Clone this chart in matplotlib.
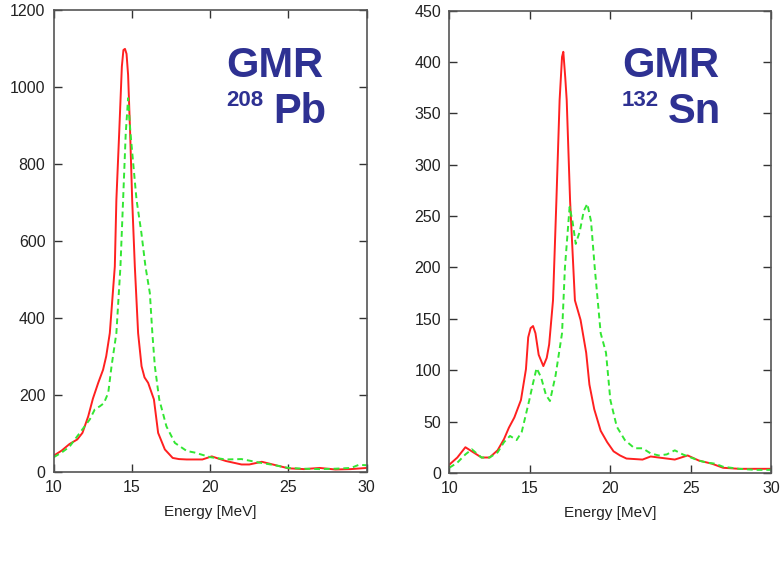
import matplotlib
matplotlib.use("Agg")
import matplotlib.pyplot as plt

plt.rcParams['font.family'] = ['Liberation Sans', 'DejaVu Sans']

# 208Pb GMR strength
pb_red_e = [10, 10.5, 11, 11.5, 11.83, 12.2, 12.5, 12.84, 13.15, 13.35, 13.58, 13.9, 14.0, 14.18,
            14.35, 14.45, 14.55, 14.65, 14.75, 14.88, 15.01, 15.18, 15.39, 15.61, 15.8, 16.03,
            16.4, 16.67, 17.1, 17.6, 18.0, 18.5, 19.5, 20.1, 21, 22, 22.5, 23.3, 24, 25, 26,
            27, 28, 29, 30]
pb_red_v = [42, 55, 72, 84, 101, 144, 190, 231, 265, 300, 360, 533, 706, 880,
            1052, 1095, 1098, 1085, 1030, 880, 706, 533, 360, 274, 245, 231,
            188, 101, 58, 36, 33, 32, 32, 40, 28, 19, 19, 26, 19, 9, 7,
            10, 6, 7, 10]
pb_green_e = [10, 10.5, 11, 11.66, 12.3, 12.62, 12.94, 13.2, 13.48, 13.69, 14.0, 14.26, 14.43,
              14.6, 14.75, 14.9, 15.1, 15.29, 15.6, 15.86, 16.14, 16.3, 16.46, 16.74, 17.2,
              17.74, 18.5, 19, 20, 21, 22, 23, 24, 25, 26, 27, 28, 29, 29.5, 30]
pb_green_v = [38, 50, 65, 101, 136, 162, 170, 178, 205, 274, 360, 533, 706,
              880, 970, 880, 790, 706, 620, 533, 464, 360, 274, 188, 118,
              75, 54, 50, 38, 32, 33, 25, 18, 10, 8, 7, 8, 10, 18, 17]

# 132Sn GMR strength
sn_red_e = [10, 10.5, 11, 11.5, 12, 12.5, 13, 13.4, 13.7, 14.04, 14.45, 14.76, 14.9, 15.05, 15.2,
            15.35, 15.55, 15.84, 16.05, 16.2, 16.44, 16.65, 16.85, 17.0, 17.08, 17.2, 17.29,
            17.5, 17.8, 18.15, 18.5, 18.7, 19.0, 19.4, 19.8, 20.2, 20.6, 21, 22, 22.5, 23, 24,
            24.8, 25.5, 26.3, 27, 28, 30]
sn_red_v = [8, 15, 25, 20, 15, 15, 22, 33, 44, 54, 71, 101, 132, 141, 143,
            136, 115, 104, 112, 125, 168, 265, 363, 405, 410, 385, 363,
            265, 168, 149, 117, 86, 62, 41, 30, 21, 17, 14, 13, 16, 15, 13,
            17, 12, 9, 5, 4, 4]
sn_green_e = [10, 10.5, 11, 11.4, 12, 12.5, 13, 13.4, 13.77, 14.18, 14.5, 14.97, 15.18, 15.42,
              15.7, 16.0, 16.25, 16.6, 17.0, 17.18, 17.47, 17.65, 17.85, 18.1, 18.35, 18.57,
              18.8, 19.03, 19.4, 19.73, 20.0, 20.4, 20.9, 21.5, 22, 22.5, 23, 23.5, 24, 24.5,
              25, 25.5, 26, 26.5, 27, 28, 29, 30]
sn_green_v = [5, 10, 18, 23, 15, 15, 20, 30, 36, 32, 40, 71, 86, 102,
              93, 76, 70, 95, 136, 200, 259, 245, 223, 235, 255, 262,
              245, 200, 136, 117, 71, 45, 32, 24, 24, 19, 17, 18, 22, 18,
              15, 12, 10, 9, 6, 4, 3, 3]

panels = [
    (pb_red_e, pb_red_v, pb_green_e, pb_green_v, 1200, range(0, 1201, 200), "208", "Pb"),
    (sn_red_e, sn_red_v, sn_green_e, sn_green_v, 450, range(0, 451, 50), "132", "Sn"),
]
axes_boxes = [[0.069, 0.162, 0.401, 0.821], [0.576, 0.160, 0.413, 0.821]]
label_pos = [(226, 273), (622, 668)]

fig = plt.figure(figsize=(7.8, 5.63), dpi=100)
navy = "#2e3192"

for (re, rv, ge, gv, ymax, yt, mass, elem), box, (xg, xe) in zip(panels, axes_boxes, label_pos):
    ax = fig.add_axes(box)
    ax.plot(re, rv, color="#ff2020", lw=1.4)
    ax.plot(ge, gv, color="#33e633", lw=1.4, ls=(0, (3, 2)))
    ax.set_xlim(10, 30)
    ax.set_ylim(0, ymax)
    ax.set_xticks([10, 15, 20, 25, 30])
    ax.set_yticks(list(yt))
    ax.tick_params(direction="in", top=True, right=True, length=6, width=1,
                   labelsize=11.5, colors="#333333", labelcolor="#222222", pad=6)
    for s in ax.spines.values():
        s.set_color("#555555")
        s.set_linewidth(1.2)
    ax.set_xlabel("Energy [MeV]", fontsize=11, color="#222222", labelpad=7)
    # big label in the corner
    fig.text(xg / 780, 1 - 77 / 563, "GMR", fontsize=30, fontweight="bold", color=navy)
    fig.text(xg / 780, 1 - 106 / 563, mass, fontsize=16, fontweight="bold", color=navy)
    fig.text(xe / 780, 1 - 123 / 563, elem, fontsize=30, fontweight="bold", color=navy)

fig.savefig("out.png", dpi=100)
